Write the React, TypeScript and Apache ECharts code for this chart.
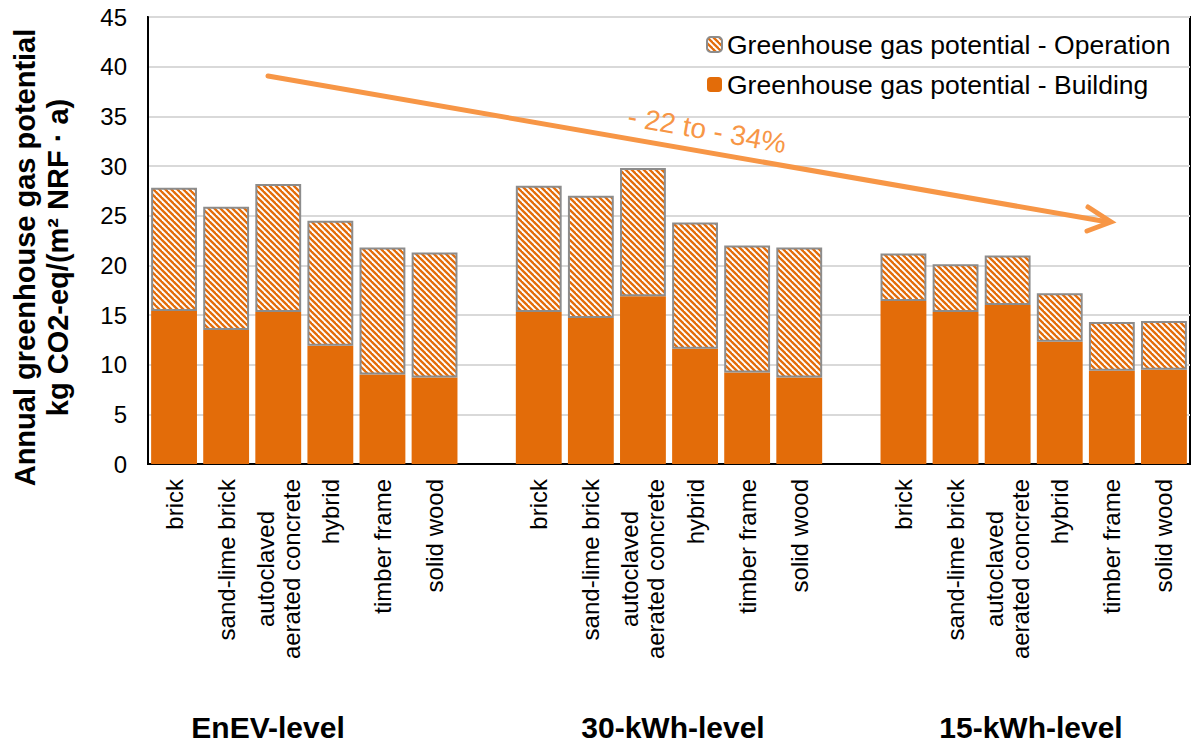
import React, { useEffect, useRef } from "react";
import * as echarts from "echarts";

// Wall construction types (repeated per efficiency level)
const constructions = [
  "brick",
  "sand-lime brick",
  "autoclaved\naerated concrete",
  "hybrid",
  "timber frame",
  "solid wood",
];
const levels = ["EnEV-level", "30-kWh-level", "15-kWh-level"];

// kg CO2-eq/(m² NRF · a)
const buildingEnEV = [15.4, 13.5, 15.3, 11.9, 9.0, 8.7];
const operationEnEV = [12.4, 12.4, 12.9, 12.6, 12.8, 12.6];
const building30 = [15.3, 14.7, 16.9, 11.6, 9.2, 8.7];
const operation30 = [12.7, 12.3, 12.9, 12.7, 12.8, 13.1];
const building15 = [16.4, 15.3, 16.0, 12.3, 9.4, 9.5];
const operation15 = [4.8, 4.8, 5.0, 4.9, 4.9, 4.9];

const yTicks = { min: 0, max: 45, interval: 5 };
const reductionText = "- 22 to - 34%";

const FONT = "'Liberation Sans', Arial, sans-serif";
const ORANGE = "#E36C09";
const ARROW = "#F79646";

// Three groups of six bars with an empty slot between groups
function withGaps<T>(a: T[], b: T[], c: T[], gap: T): T[] {
  return [...a, gap, ...b, gap, ...c];
}

// Diagonal "\\\" hatch used for the operation share
function makeHatch(): HTMLCanvasElement {
  const s = 6;
  const cv = document.createElement("canvas");
  cv.width = s;
  cv.height = s;
  const ctx = cv.getContext("2d")!;
  ctx.fillStyle = "#ffffff";
  ctx.fillRect(0, 0, s, s);
  ctx.strokeStyle = ORANGE;
  ctx.lineWidth = 2.3;
  for (const c of [-s, 0, s]) {
    ctx.beginPath();
    ctx.moveTo(-2, c - 2);
    ctx.lineTo(s + 2, c + s + 2);
    ctx.stroke();
  }
  return cv;
}

export default function App() {
  const ref = useRef<HTMLDivElement>(null);

  useEffect(() => {
    if (!ref.current) return;
    const chart = echarts.init(ref.current, null, { renderer: "svg" });

    const xData = withGaps(constructions, constructions, constructions, "");
    const buildingData = withGaps(buildingEnEV, building30, building15, null as any);
    const operationData = withGaps(operationEnEV, operation30, operation15, null as any);

    const hatch = makeHatch();

    const groupCenters = [268, 673, 1031];

    chart.setOption({
      animation: false,
      textStyle: { fontFamily: FONT },
      grid: {
        left: 148,
        right: 3,
        top: 17,
        bottom: 278,
        show: true,
        borderColor: "#000",
        borderWidth: 2,
        containLabel: false,
        outerBoundsMode: "none",
      },
      legend: {
        orient: "vertical",
        left: 701,
        top: 26,
        itemWidth: 15,
        itemHeight: 15,
        itemGap: 13,
        data: ["Greenhouse gas potential - Operation", "Greenhouse gas potential - Building"],
        textStyle: { fontFamily: FONT, fontSize: 26.5, color: "#000", lineHeight: 27 },
      },
      xAxis: {
        type: "category",
        data: xData,
        axisTick: { show: false },
        axisLine: { lineStyle: { color: "#000", width: 2 } },
        axisLabel: {
          interval: 0,
          rotate: 90,
          margin: 15,
          formatter: (v: string) =>
            v
              .split("\n")
              .map((l) => `{c|${l}}`)
              .join("\n"),
          rich: {
            c: { align: "center", fontSize: 24, fontFamily: FONT, color: "#000", lineHeight: 26 },
          },
        },
      },
      yAxis: {
        type: "value",
        ...yTicks,
        axisLine: { show: true, lineStyle: { color: "#000", width: 2 } },
        axisTick: { show: false },
        splitLine: { lineStyle: { color: "#d9d9d9", width: 2 } },
        axisLabel: { fontSize: 24, color: "#000", margin: 21, fontFamily: FONT },
        name: "Annual greenhouse gas potential\nkg CO2-eq/(m² NRF · a)",
        nameLocation: "middle",
        nameRotate: 90,
        nameGap: 74,
        nameTextStyle: {
          fontSize: 29,
          fontWeight: "bold",
          color: "#000",
          fontFamily: FONT,
          lineHeight: 33,
          align: "center",
          padding: [0, 34, 0, 0],
        },
      },
      series: [
        {
          name: "Greenhouse gas potential - Building",
          type: "bar",
          stack: "total",
          barCategoryGap: "12%",
          data: buildingData,
          itemStyle: { color: ORANGE },
        },
        {
          name: "Greenhouse gas potential - Operation",
          type: "bar",
          stack: "total",
          barCategoryGap: "12%",
          data: operationData,
          itemStyle: {
            color: { image: hatch, repeat: "repeat" },
            borderColor: "#8c8c8c",
            borderWidth: 2,
          },
        },
      ],
      graphic: [
        // reduction arrow
        {
          type: "line",
          shape: { x1: 268, y1: 76, x2: 1108, y2: 222 },
          style: { stroke: ARROW, lineWidth: 5, lineCap: "round" },
          z: 10,
        },
        {
          type: "polyline",
          shape: { points: [[1088, 207], [1111, 222], [1087, 231]] },
          style: { stroke: ARROW, lineWidth: 5, lineCap: "round", lineJoin: "miter", fill: null },
          z: 10,
        },
        {
          type: "text",
          x: 707,
          y: 130,
          rotation: -0.175,
          style: {
            text: reductionText,
            fill: ARROW,
            font: `28px ${FONT}`,
            align: "center",
            verticalAlign: "middle",
          },
          z: 10,
        },
        // level captions below the construction labels
        ...levels.map((t, i) => ({
          type: "text",
          x: groupCenters[i],
          y: 727,
          style: {
            text: t,
            fill: "#000",
            font: `bold 30px ${FONT}`,
            align: "center",
            verticalAlign: "middle",
          },
        })),
      ],
    });

    return () => chart.dispose();
  }, []);

  return <div ref={ref} style={{ width: 1193, height: 742, position: "absolute", left: 0, top: 0 }} />;
}
